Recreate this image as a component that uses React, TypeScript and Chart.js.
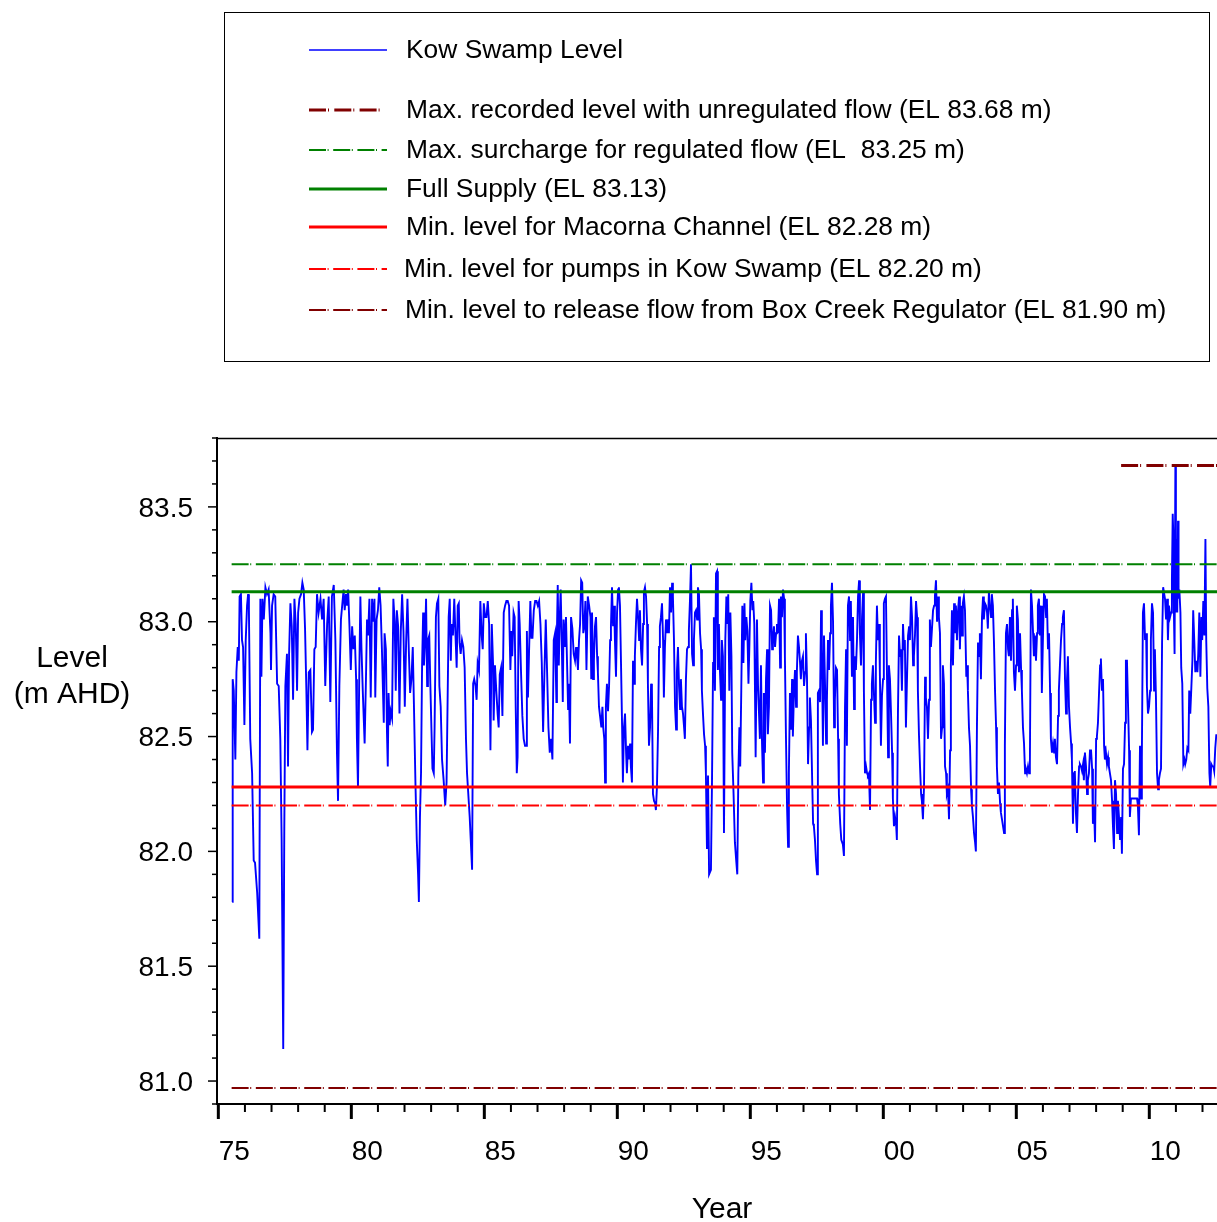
import React, { useEffect, useRef } from 'react';
import { Chart, registerables } from 'chart.js';

Chart.register(...registerables);

// ---- Data ----
// Kow Swamp level: [year, level (m AHD)]
const kowSwampLevel: [number, number][] = [
  [1975.52,81.78],[1975.54,82.75],[1975.58,82.70],[1975.64,82.40],[1975.68,82.78],[1975.73,82.89],[1975.77,82.83],[1975.80,83.11],[1975.85,83.12],[1975.89,82.92],[1975.93,82.89],[1975.98,82.55],[1976.03,82.92],[1976.08,83.07],[1976.12,83.12],[1976.15,83.05],[1976.20,82.49],[1976.27,82.34],[1976.33,81.96],[1976.38,81.95],[1976.46,81.82],[1976.54,81.62],[1976.58,83.10],
  [1976.62,82.76],[1976.66,83.10],[1976.71,83.01],[1976.77,83.15],[1976.83,83.12],[1976.89,83.14],[1976.96,82.95],[1976.98,82.79],[1977.02,83.07],[1977.08,83.12],[1977.14,83.11],[1977.21,82.73],[1977.27,82.72],[1977.33,82.49],[1977.38,82.05],[1977.44,81.14],[1977.48,82.10],[1977.52,82.72],[1977.58,82.86],[1977.62,82.37],[1977.66,82.86],[1977.71,83.08],[1977.76,82.98],[1977.81,82.66],[1977.86,83.10],[1977.91,82.99],[1977.96,82.70],[1978.00,83.04],[1978.05,83.10],[1978.11,83.12],[1978.16,83.17],[1978.21,83.14],[1978.26,82.97],[1978.31,82.70],[1978.35,82.44],[1978.40,82.78],[1978.46,82.79],[1978.52,82.52],[1978.56,82.53],[1978.61,82.88],[1978.66,82.89],[1978.71,83.12],[1978.77,83.04],[1978.84,83.10],[1978.90,83.01],[1978.96,83.10],[1979.02,82.72],[1979.09,82.99],[1979.15,83.11],[1979.21,82.65],[1979.27,83.11],[1979.34,83.16],[1979.40,82.92],[1979.46,82.43],[1979.50,82.22],[1979.55,82.72],[1979.61,83.01],
  [1979.71,83.14],[1979.75,83.05],[1979.80,83.12],[1979.84,83.07],[1979.88,83.14],[1979.93,82.98],[1979.98,82.79],[1980.03,82.98],[1980.08,82.88],[1980.13,82.94],[1980.18,82.75],[1980.21,82.49],[1980.25,82.28],[1980.30,82.78],[1980.34,83.11],[1980.38,82.89],[1980.43,82.70],[1980.50,82.47],[1980.55,82.75],[1980.59,83.01],[1980.63,82.94],[1980.68,83.10],[1980.73,82.67],[1980.78,83.10],[1980.83,83.00],[1980.87,83.10],[1980.90,82.67],[1980.95,83.01],[1981.00,83.05],[1981.05,83.15],[1981.10,83.07],[1981.15,82.88],[1981.22,82.56],[1981.25,82.95],[1981.30,82.88],[1981.34,82.52],[1981.37,82.37],[1981.40,82.69],[1981.44,82.55],[1981.48,82.61],[1981.53,82.58],[1981.58,83.10],[1981.63,83.00],[1981.67,82.70],[1981.71,83.05],[1981.76,82.98],[1981.81,82.60],[1981.86,82.96],[1981.91,83.12],[1981.96,82.96],[1982.01,82.63],[1982.06,82.91],[1982.11,83.10],[1982.16,82.88],[1982.21,82.69],[1982.26,82.75],[1982.31,82.89],[1982.36,82.60],[1982.41,82.30],[1982.46,82.05],[1982.51,81.90],[1982.54,81.78],[1982.58,82.15],[1982.62,82.34],[1982.66,82.81],[1982.70,83.04],[1982.73,82.81],[1982.77,82.91],[1982.81,83.10],[1982.85,82.72],[1982.88,82.92],[1982.93,82.94],[1982.97,82.73],[1983.01,82.54],[1983.05,82.36],[1983.10,82.34],[1983.13,82.54],[1983.18,83.02],[1983.22,83.08],[1983.27,83.10],[1983.31,82.72],[1983.36,82.63],[1983.41,82.40],[1983.47,82.31],[1983.53,82.20],[1983.58,82.30],[1983.62,82.66],[1983.66,83.02],[1983.70,83.10],[1983.74,82.83],[1983.77,82.99],[1983.82,82.94],[1983.87,83.10],[1983.91,82.96],[1983.96,82.80],[1984.00,83.07],[1984.04,83.08],[1984.07,82.91],[1984.11,82.86],[1984.16,82.92],[1984.21,82.89],[1984.26,82.80],[1984.31,82.49],[1984.35,82.34],
  [1984.45,82.15],[1984.54,81.92],[1984.58,82.73],[1984.62,82.75],[1984.67,82.72],[1984.71,82.66],[1984.75,82.82],[1984.80,82.79],[1984.85,83.09],[1984.90,82.94],[1984.94,82.88],[1984.98,83.08],[1985.03,83.02],[1985.08,83.02],[1985.13,83.09],[1985.18,82.99],[1985.23,82.44],[1985.28,82.99],[1985.33,82.81],[1985.35,82.57],[1985.40,82.81],[1985.45,82.70],[1985.50,82.60],[1985.54,82.54],[1985.58,82.77],[1985.63,82.80],[1985.68,82.59],[1985.73,83.04],[1985.78,83.07],[1985.83,83.09],[1985.88,83.09],[1985.93,83.07],[1985.98,82.79],[1986.02,82.96],[1986.05,82.85],[1986.10,83.04],[1986.14,83.02],[1986.18,82.63],[1986.22,82.34],[1986.25,82.41],[1986.29,83.09],[1986.33,82.99],[1986.38,82.78],[1986.43,82.59],[1986.48,82.49],[1986.53,82.46],[1986.57,82.46],[1986.60,82.96],[1986.64,82.67],[1986.68,82.86],[1986.73,83.09],[1986.77,82.93],[1986.81,82.93],[1986.86,83.05],[1986.91,83.09],[1986.96,83.09],[1987.01,83.07],[1987.06,83.09],[1987.11,82.99],[1987.16,82.82],[1987.21,82.52],[1987.26,82.78],[1987.31,83.01],[1987.36,82.78],[1987.41,82.54],[1987.46,82.43],[1987.51,82.49],[1987.56,82.40],[1987.61,82.92],[1987.66,82.95],[1987.71,82.65],[1987.73,82.96],[1987.76,83.16],[1987.80,82.81],[1987.83,82.99],[1987.87,83.14],[1987.91,82.92],[1987.95,82.65],[1987.98,83.01],[1988.03,82.89],[1988.07,83.02],[1988.11,82.82],[1988.15,82.62],[1988.18,82.73],[1988.22,82.47],[1988.26,83.02],[1988.31,82.97],[1988.36,82.86],[1988.41,82.83],[1988.45,82.89],[1988.48,82.86],[1988.52,82.79],[1988.56,82.92],[1988.60,82.99],[1988.64,83.18],[1988.68,83.17],[1988.72,82.95],[1988.76,82.98],[1988.80,83.09],[1988.84,82.79],[1988.89,83.11],[1988.94,83.07],[1988.99,83.02],[1989.02,82.75],
  [1989.05,83.04],[1989.09,82.75],[1989.12,82.83],[1989.16,82.98],[1989.20,83.02],[1989.24,82.85],[1989.27,82.78],[1989.31,82.63],[1989.35,82.59],[1989.40,82.54],[1989.44,82.63],[1989.47,82.54],[1989.51,82.49],[1989.54,82.30],[1989.57,82.63],[1989.61,82.73],[1989.65,82.61],[1989.69,82.72],[1989.73,82.92],[1989.76,82.98],[1989.80,83.15],[1989.84,82.98],[1989.88,83.07],[1989.91,82.92],[1989.95,82.76],[1989.99,83.04],[1990.03,83.14],[1990.06,83.15],[1990.10,83.07],[1990.14,82.81],[1990.18,82.54],[1990.21,82.30],[1990.25,82.54],[1990.29,82.60],[1990.33,82.43],[1990.36,82.34],[1990.40,82.46],[1990.44,82.40],[1990.48,82.47],[1990.51,82.37],[1990.55,82.30],[1990.59,82.83],[1990.63,82.73],[1990.66,82.85],[1990.70,82.99],[1990.74,83.10],[1990.78,83.02],[1990.82,82.92],[1990.85,83.05],[1990.89,82.88],[1990.93,82.81],[1990.97,82.99],[1991.00,83.13],[1991.04,83.15],[1991.08,83.11],[1991.12,82.99],[1991.15,82.73],[1991.19,82.46],[1991.23,82.54],[1991.27,82.73],[1991.30,82.71],[1991.34,82.25],[1991.38,82.22],[1991.42,82.21],[1991.45,82.18],[1991.49,82.28],[1991.53,82.52],[1991.57,82.89],[1991.60,82.98],[1991.64,83.02],[1991.68,83.08],[1991.72,82.92],[1991.75,82.67],[1991.79,82.89],[1991.83,83.01],[1991.87,82.95],[1991.91,83.01],[1991.94,82.95],[1991.98,83.15],[1992.02,83.04],[1992.06,83.17],[1992.09,83.11],[1992.13,82.92],[1992.17,82.63],[1992.21,82.53],[1992.24,82.78],[1992.28,82.89],[1992.32,82.72],[1992.36,82.62],[1992.39,82.75],[1992.43,82.63],[1992.47,82.60],[1992.51,82.54],[1992.54,82.49],[1992.58,82.75],[1992.62,82.88],[1992.66,82.89],[1992.69,82.96],[1992.73,83.09],[1992.77,83.25],[1992.81,82.86],[1992.85,82.81],[1992.88,82.92],[1992.92,83.04],[1992.96,83.05],[1993.00,83.01],[1993.03,83.15],[1993.07,83.12],[1993.11,82.95],[1993.15,82.88],[1993.18,82.70],[1993.22,82.60],[1993.26,82.51],[1993.30,82.46],[1993.33,82.34],[1993.37,82.01],[1993.41,82.33],[1993.45,81.90],[1993.48,81.90],[1993.52,81.92],[1993.56,82.31],[1993.60,82.82],[1993.63,83.02],[1993.67,82.70],[1993.71,83.21],
  [1993.75,83.22],[1993.78,82.79],[1993.82,82.99],[1993.86,82.78],[1993.90,82.66],[1993.93,82.92],[1993.97,82.85],[1994.01,82.08],[1994.06,82.92],[1994.10,83.11],[1994.14,82.99],[1994.17,83.12],[1994.21,82.70],[1994.25,83.04],[1994.29,82.85],[1994.32,82.43],[1994.37,82.25],[1994.42,82.04],[1994.47,81.96],[1994.51,81.90],[1994.55,82.34],[1994.59,82.54],[1994.62,82.37],[1994.66,82.70],[1994.70,83.07],[1994.74,82.82],[1994.78,83.08],[1994.81,82.92],[1994.85,83.02],[1994.89,82.96],[1994.93,82.73],[1994.96,82.87],[1995.00,83.09],[1995.04,83.17],[1995.08,83.05],[1995.11,83.09],[1995.15,82.99],[1995.20,82.41],[1995.25,83.01],[1995.29,82.72],[1995.33,82.59],[1995.36,82.49],[1995.40,82.81],[1995.44,82.47],[1995.48,82.30],[1995.51,82.69],[1995.55,82.43],[1995.59,82.75],[1995.63,82.88],[1995.66,82.51],[1995.70,82.63],[1995.74,83.07],[1995.78,83.05],[1995.82,82.88],[1995.85,82.92],[1995.89,82.98],[1995.93,82.89],[1995.97,82.95],[1996.00,82.99],[1996.04,82.95],[1996.08,83.10],[1996.12,82.80],[1996.15,83.11],[1996.19,83.02],[1996.23,83.14],[1996.27,83.10],[1996.30,82.85],[1996.34,82.50],[1996.38,82.20],[1996.42,82.02],[1996.45,82.34],[1996.49,82.69],[1996.53,82.53],[1996.57,82.75],[1996.60,82.50],[1996.64,82.69],[1996.68,82.79],[1996.72,82.63],[1996.75,82.78],[1996.79,82.94],[1996.83,82.89],[1996.87,82.82],[1996.90,82.75],[1996.94,82.83],[1996.98,82.85],[1997.02,82.72],[1997.06,82.78],[1997.09,82.95],[1997.13,82.76],[1997.17,82.38],[1997.21,82.54],[1997.24,82.67],[1997.28,82.57],[1997.32,82.34],[1997.36,82.12],[1997.39,82.11],[1997.43,82.05],[1997.47,81.96],[1997.51,81.90],[1997.54,82.69],[1997.58,82.70],[1997.62,82.65],[1997.66,83.05],[1997.69,82.88],[1997.73,82.46],[1997.77,82.94],[1997.81,82.72],[1997.85,82.47],[1997.88,82.66],[1997.92,82.92],[1997.96,82.79],[1998.00,82.95],[1998.03,83.07],[1998.07,83.17],[1998.11,83.00],[1998.15,82.54],[1998.18,82.66],[1998.22,82.80],[1998.26,82.79],[1998.30,82.49],[1998.33,82.25],[1998.38,82.12],[1998.42,82.05],
  [1998.48,82.03],[1998.52,81.98],[1998.56,82.63],[1998.60,82.88],[1998.63,82.46],[1998.67,83.07],[1998.71,83.11],[1998.75,82.92],[1998.78,83.09],[1998.82,82.76],[1998.86,83.02],[1998.90,82.62],[1998.93,82.85],[1998.97,82.79],[1999.01,82.92],[1999.05,83.11],[1999.09,83.18],[1999.12,82.95],[1999.16,82.81],[1999.20,83.02],[1999.24,83.13],[1999.27,82.70],[1999.31,82.34],[1999.35,82.37],[1999.39,82.34],[1999.42,82.33],[1999.46,82.34],[1999.50,82.18],[1999.54,82.66],[1999.57,82.73],[1999.61,82.81],[1999.65,82.68],[1999.69,82.56],[1999.72,82.82],[1999.76,83.07],[1999.80,82.92],[1999.84,82.99],[1999.87,82.78],[1999.91,82.46],[1999.95,82.68],[1999.99,82.75],[2000.02,83.08],[2000.06,83.10],[2000.10,83.11],[2000.14,82.75],[2000.18,82.41],[2000.21,82.81],[2000.25,82.75],[2000.29,82.60],[2000.33,82.43],[2000.36,82.23],[2000.40,82.11],[2000.44,82.15],[2000.48,82.12],[2000.51,82.05],[2000.55,82.60],[2000.59,82.94],[2000.63,82.85],[2000.66,82.88],[2000.70,82.70],[2000.74,82.99],[2000.78,82.88],[2000.81,82.92],[2000.85,82.54],[2000.89,82.75],[2000.93,82.94],[2000.97,82.98],[2001.00,82.92],[2001.04,83.11],[2001.08,83.02],[2001.12,82.81],[2001.15,82.85],[2001.19,82.94],[2001.23,83.09],[2001.27,83.02],[2001.30,82.70],[2001.34,82.51],[2001.38,82.37],[2001.42,82.25],[2001.45,82.22],[2001.49,82.14],[2001.53,82.28],[2001.57,82.76],[2001.60,82.67],[2001.64,82.63],[2001.68,82.49],[2001.72,82.66],[2001.75,83.01],[2001.79,82.89],[2001.83,82.97],[2001.87,83.05],[2001.91,83.07],[2001.94,83.11],[2001.98,83.18],[2002.02,83.00],[2002.06,83.11],[2002.09,83.02],[2002.13,82.95],[2002.17,82.49],[2002.21,82.54],[2002.24,82.81],[2002.28,82.73],[2002.32,82.37],[2002.36,82.34],[2002.39,82.25],[2002.43,82.27],[2002.47,82.14],[2002.51,82.44],[2002.54,82.81],[2002.58,83.05],[2002.62,82.81],[2002.66,83.08],[2002.69,82.95],[2002.73,83.07],[2002.77,82.92],[2002.81,83.05],[2002.85,83.11],[2002.88,82.88],[2002.92,83.07],[2002.96,82.94],[2002.99,83.08],[2003.03,83.11],[2003.07,83.05],[2003.12,82.76],
  [2003.15,82.81],[2003.18,82.70],[2003.22,82.54],[2003.26,82.46],[2003.30,82.27],[2003.33,82.20],[2003.37,82.15],[2003.41,82.08],[2003.45,82.04],[2003.48,82.00],[2003.52,82.54],[2003.56,82.91],[2003.60,82.85],[2003.63,82.95],[2003.67,82.75],[2003.71,83.02],[2003.75,83.11],[2003.78,83.01],[2003.82,83.08],[2003.86,83.07],[2003.90,83.04],[2003.93,82.97],[2003.97,83.13],[2004.01,83.07],[2004.05,83.02],[2004.08,83.12],[2004.12,83.07],[2004.16,82.91],[2004.20,82.70],[2004.24,82.54],[2004.27,82.37],[2004.31,82.25],[2004.35,82.30],[2004.39,82.21],[2004.42,82.17],[2004.46,82.14],[2004.50,82.11],[2004.54,82.08],[2004.57,82.46],[2004.61,82.95],[2004.65,82.99],[2004.69,82.88],[2004.72,82.85],[2004.76,83.02],[2004.80,82.83],[2004.84,83.05],[2004.87,83.10],[2004.91,82.78],[2004.95,82.70],[2004.99,82.81],[2005.02,83.07],[2005.06,83.01],[2005.10,82.78],[2005.14,82.95],[2005.18,82.79],[2005.21,82.70],[2005.25,82.54],[2005.29,82.47],[2005.33,82.34],[2005.36,82.36],[2005.40,82.34],[2005.44,82.37],[2005.48,82.34],[2005.51,82.37],[2005.55,83.14],[2005.59,83.07],[2005.63,82.95],[2005.66,82.85],[2005.70,82.94],[2005.74,82.83],[2005.78,82.95],[2005.81,83.07],[2005.85,83.10],[2005.89,82.94],[2005.93,83.07],[2005.96,82.69],[2006.00,82.92],[2006.04,83.12],[2006.08,83.11],[2006.12,83.02],[2006.15,83.10],[2006.19,82.88],[2006.23,82.95],[2006.27,82.69],[2006.30,82.49],[2006.34,82.43],[2006.38,82.47],[2006.42,82.43],[2006.45,82.49],[2006.49,82.41],[2006.53,82.38],[2006.57,82.59],[2006.60,82.70],[2006.64,82.81],[2006.68,82.92],[2006.72,82.99],[2006.75,83.02],[2006.79,83.05],[2006.83,82.75],[2006.87,82.60],[2006.90,82.73],[2006.94,82.85],[2006.98,82.63],[2007.02,82.54],[2007.06,82.47],[2007.09,82.40],[2007.13,82.12],[2007.17,82.34],[2007.20,82.35],[2007.24,82.17],[2007.28,82.08],[2007.32,82.25],[2007.36,82.37],[2007.39,82.38],[2007.43,82.37],[2007.47,82.35],[2007.51,82.38],[2007.54,82.31],[2007.58,82.43],[2007.62,82.37],[2007.66,82.25],[2007.69,82.31],[2007.73,82.34],[2007.77,82.44],[2007.81,82.44],
  [2007.85,82.36],[2007.88,82.12],[2007.92,82.20],[2007.96,82.04],[2008.00,82.49],[2008.03,82.50],[2008.07,82.56],[2008.11,82.69],[2008.15,82.81],[2008.18,82.84],[2008.22,82.70],[2008.26,82.75],[2008.30,82.46],[2008.33,82.40],[2008.37,82.43],[2008.41,82.38],[2008.45,82.41],[2008.48,82.37],[2008.52,82.34],[2008.56,82.31],[2008.60,82.22],[2008.63,82.12],[2008.67,82.01],[2008.71,82.31],[2008.75,82.25],[2008.79,82.08],[2008.82,82.22],[2008.86,82.15],[2008.90,82.05],[2008.94,82.15],[2008.97,81.99],[2009.01,82.36],[2009.05,82.38],[2009.09,82.56],[2009.12,82.83],[2009.16,82.83],[2009.20,82.64],[2009.24,82.44],[2009.27,82.15],[2009.31,82.23],[2009.35,82.23],[2009.45,82.23],[2009.54,82.23],[2009.57,82.20],[2009.61,82.07],[2009.65,82.46],[2009.69,82.23],[2009.72,82.41],[2009.76,83.04],[2009.80,83.08],[2009.84,82.92],[2009.88,82.95],[2009.91,82.72],[2009.95,82.60],[2009.99,82.63],[2010.03,82.70],[2010.06,82.92],[2010.10,83.08],[2010.14,83.04],[2010.18,82.70],[2010.21,82.88],[2010.25,82.67],[2010.29,82.34],[2010.33,82.27],[2010.36,82.31],[2010.40,82.34],[2010.44,82.36],[2010.48,82.91],[2010.52,83.15],[2010.55,83.15],[2010.59,83.10],[2010.63,83.01],[2010.67,83.10],[2010.70,82.92],[2010.74,83.07],[2010.78,83.02],[2010.82,83.04],[2010.85,83.18],[2010.88,83.47],[2010.90,83.39],[2010.93,83.00],[2010.95,82.86],[2010.98,83.68],[2011.00,83.04],[2011.03,83.36],[2011.05,83.04],[2011.08,83.44],[2011.10,83.10],[2011.13,83.14],[2011.17,83.04],[2011.20,82.80],[2011.24,82.73],[2011.28,82.38],[2011.32,82.40],[2011.35,82.38],[2011.39,82.40],[2011.43,82.45],[2011.47,82.44],[2011.50,82.70],[2011.54,82.60],[2011.58,82.71],[2011.62,82.83],[2011.65,83.05],[2011.69,82.92],[2011.73,82.78],[2011.77,82.83],[2011.81,82.78],[2011.84,82.86],[2011.88,83.04],[2011.92,82.76],[2011.96,83.02],[2011.99,82.92],[2012.03,83.09],[2012.07,82.94],[2012.11,83.36],[2012.14,82.92],[2012.18,82.71],[2012.22,82.63],[2012.26,82.34],[2012.29,82.28],[2012.33,82.38],[2012.37,82.37],[2012.41,82.37],[2012.44,82.35],[2012.48,82.45],[2012.52,82.51],
];

const seriesLabel = 'Kow Swamp Level';
const refLabels = [
  'Max. recorded level with unregulated flow (EL 83.68 m)',
  'Max. surcharge for regulated flow (EL  83.25 m)',
  'Full Supply (EL 83.13)',
  'Min. level for Macorna Channel (EL 82.28 m)',
  'Min. level for pumps in Kow Swamp (EL 82.20 m)',
  'Min. level to release flow from Box Creek Regulator (EL 81.90 m)',
];
const refLevels = [83.68, 83.25, 83.13, 82.28, 82.2, 80.97];
const refStartYears = [2008.94, 1975.5, 1975.5, 1975.5, 1975.5, 1975.5];
const refEndYear = 2012.6;

const xTickYears = [1975, 1980, 1985, 1990, 1995, 2000, 2005, 2010];
const yTickValues = [81.0, 81.5, 82.0, 82.5, 83.0, 83.5];
const xMin = 1974.95;
const xMax = 2012.545;
const yMin = 80.9;
const yMax = 83.8;

// ---- Styles ----
const FONT = "Arial, 'Liberation Sans', Helvetica, sans-serif";
const W = 1217;
const H = 1222;
const DASH = [17, 1.6, 1, 4.6];
const refStyles = [
  { color: '#800000', width: 3, dash: [17, 2, 1, 5.3] },
  { color: '#008000', width: 2, dash: DASH },
  { color: '#008000', width: 3, dash: [] as number[] },
  { color: '#ff0000', width: 3, dash: [] as number[] },
  { color: '#ff0000', width: 2, dash: DASH },
  { color: '#800000', width: 2, dash: DASH },
];
const blueStyle = { color: '#0000ff', width: 1.9 };

const legendRowsY = [51, 111, 151, 190, 228, 270, 311];
const legendTextX = [406, 406, 406, 406, 406, 404, 405];

const decorPlugin = {
  id: 'decor',
  afterDraw(chart: any) {
    const { ctx, chartArea } = chart;
    const xs = chart.scales.x;
    const ys = chart.scales.y;
    ctx.save();
    ctx.setLineDash([]);
    ctx.strokeStyle = '#000';
    // top frame line
    ctx.lineWidth = 1.5;
    ctx.beginPath();
    ctx.moveTo(chartArea.left, chartArea.top + 0.5);
    ctx.lineTo(chartArea.right, chartArea.top + 0.5);
    ctx.stroke();
    // x ticks (yearly minor, 5-yearly major)
    for (let yr = 1975; yr <= 2012; yr++) {
      const px = xs.getPixelForValue(yr);
      const major = yr % 5 === 0;
      ctx.lineWidth = major ? 3 : 2;
      ctx.beginPath();
      ctx.moveTo(px, chartArea.bottom);
      ctx.lineTo(px, chartArea.bottom + (major ? 15 : 8));
      ctx.stroke();
    }
    // y ticks (0.1 minor, 0.5 major)
    for (let i = 809; i <= 838; i++) {
      const py = ys.getPixelForValue(i / 10);
      const major = i % 5 === 0;
      ctx.lineWidth = 1.5;
      ctx.beginPath();
      ctx.moveTo(chartArea.left, py);
      ctx.lineTo(chartArea.left - (major ? 9 : 5), py);
      ctx.stroke();
    }
    // axis titles
    ctx.fillStyle = '#000';
    ctx.font = `30px ${FONT}`;
    ctx.textAlign = 'center';
    ctx.textBaseline = 'middle';
    ctx.fillText('Level', 72, 659);
    ctx.fillText('(m AHD)', 72, 695);
    ctx.fillText('Year', 722, 1210);

    // legend box
    ctx.lineWidth = 1;
    ctx.strokeStyle = '#000';
    ctx.strokeRect(224.5, 12.5, 985, 349);
    const labels = [seriesLabel, ...refLabels];
    const styles = [{ ...blueStyle, width: 1.5, dash: [] as number[] }, ...refStyles];
    ctx.font = `26.4px ${FONT}`;
    ctx.textAlign = 'left';
    labels.forEach((lab, i) => {
      const y = legendRowsY[i];
      const st = styles[i];
      ctx.strokeStyle = st.color;
      ctx.lineWidth = st.width;
      ctx.setLineDash(st.dash);
      ctx.beginPath();
      ctx.moveTo(309, y - 1);
      ctx.lineTo(i === 1 ? 380 : 387, y - 1);
      ctx.stroke();
      ctx.setLineDash([]);
      ctx.fillStyle = '#000';
      ctx.fillText(lab, legendTextX[i], y);
    });
    ctx.restore();
  },
};

export default function App() {
  const canvasRef = useRef<HTMLCanvasElement | null>(null);

  useEffect(() => {
    const canvas = canvasRef.current;
    if (!canvas) return;
    const refDatasets = refLevels.map((lv, i) => ({
      label: refLabels[i],
      data: [
        { x: refStartYears[i], y: lv },
        { x: refEndYear, y: lv },
      ],
      borderColor: refStyles[i].color,
      borderWidth: refStyles[i].width,
      borderDash: refStyles[i].dash,
      pointRadius: 0,
      fill: false,
      tension: 0,
      order: 0,
    }));
    const chart = new Chart(canvas, {
      type: 'line',
      data: {
        datasets: [
          {
            label: seriesLabel,
            data: kowSwampLevel.map(([x, y]) => ({ x, y })),
            borderColor: blueStyle.color,
            borderWidth: blueStyle.width,
            pointRadius: 0,
            fill: false,
            tension: 0,
            order: 1,
          },
          ...refDatasets,
        ],
      },
      options: {
        animation: false,
        responsive: false,
        devicePixelRatio: 1,
        layout: { padding: { top: 438, left: 0, right: 0, bottom: 0 } },
        plugins: {
          legend: { display: false },
          tooltip: { enabled: false },
          title: { display: false },
        },
        scales: {
          x: {
            type: 'linear',
            min: xMin,
            max: xMax,
            grid: { display: false, drawTicks: false },
            border: { display: true, color: '#000', width: 2 },
            afterBuildTicks: (s: any) => {
              s.ticks = xTickYears.map((v) => ({ value: v }));
            },
            afterFit: (s: any) => {
              s.height = H - 1104;
            },
            ticks: {
              autoSkip: false,
              maxRotation: 0,
              minRotation: 0,
              padding: 31,
              labelOffset: 16,
              color: '#000',
              font: { family: FONT, size: 28 },
              callback: (v: any) => String(Math.round(Number(v)) % 100).padStart(2, '0'),
            },
          },
          y: {
            type: 'linear',
            min: yMin,
            max: yMax,
            grid: { display: false, drawTicks: false },
            border: { display: true, color: '#000', width: 2 },
            afterBuildTicks: (s: any) => {
              s.ticks = yTickValues.map((v) => ({ value: v }));
            },
            afterFit: (s: any) => {
              s.width = 217;
            },
            ticks: {
              autoSkip: false,
              padding: 24,
              labelOffset: 2,
              color: '#000',
              font: { family: FONT, size: 28 },
              callback: (v: any) => Number(v).toFixed(1),
            },
          },
        },
      },
      plugins: [decorPlugin],
    } as any);
    return () => chart.destroy();
  }, []);

  return (
    <div style={{ position: 'absolute', left: 0, top: 0, width: W, height: H, background: '#fff' }}>
      <canvas ref={canvasRef} width={W} height={H} style={{ width: W, height: H, display: 'block' }} />
    </div>
  );
}
